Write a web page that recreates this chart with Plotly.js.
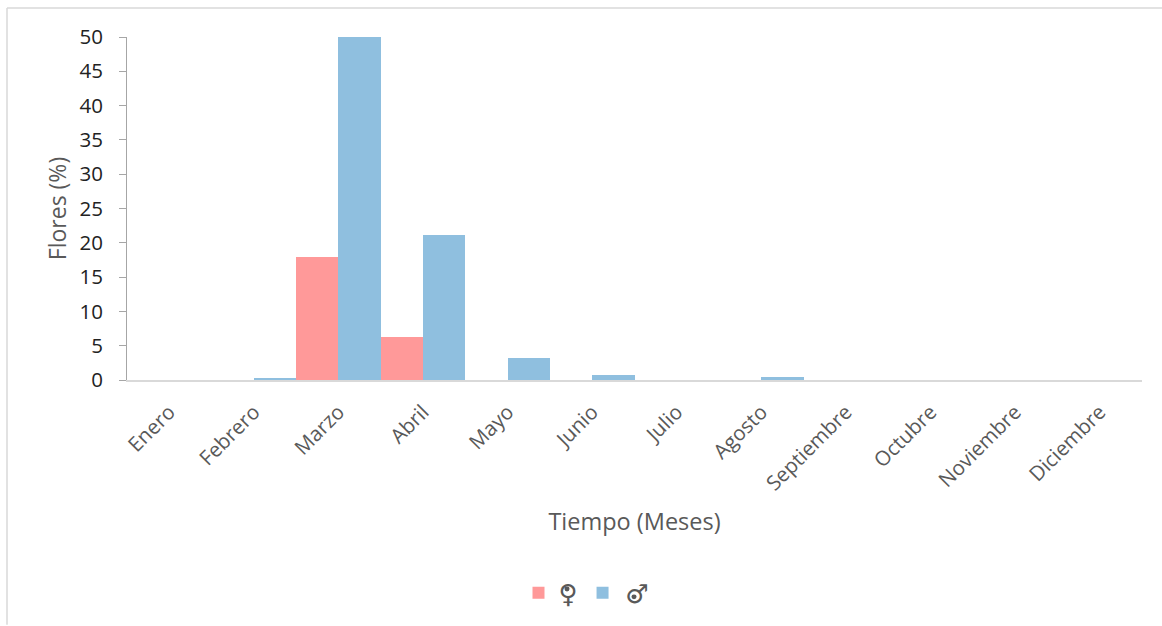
<!DOCTYPE html>
<html>
<head>
<meta charset="utf-8">
<script src="https://cdn.plot.ly/plotly-3.0.1.min.js"></script>
<style>html,body{margin:0;padding:0;background:#fff}#chart{width:1162px;height:626px}</style>
</head>
<body>
<div id="chart"></div>
<script>
// Flowering per month, split by flower sex
const meses = ['Enero','Febrero','Marzo','Abril','Mayo','Junio','Julio','Agosto','Septiembre','Octubre','Noviembre','Diciembre'];
const femeninas = [0,0,18,6.2,0,0,0,0,0,0,0,0];
const masculinas = [0,0.2,50,21.2,3.2,0.8,0,0.4,0,0,0,0];

const W = 1162, H = 626;
const m = {l:127, r:20, t:36.5, b:245.5, autoexpand:false};
const pw = W - m.l - m.r, ph = H - m.t - m.b;
const px = v => (v - m.l) / pw;
const py = v => (H - m.b - v) / ph;
const grisMarco = '#d9d9d9';

const traces = [
  {type:'bar', name:'♀', x:meses, y:femeninas, marker:{color:'#ff9999'}},
  {type:'bar', name:'\u200a♂', x:meses, y:masculinas, marker:{color:'#8fbfdf'}}
];

// Small filled dot sitting inside the ring of a legend sex symbol
const punto = (cx, cy) => ({
  type:'circle', xref:'paper', yref:'paper', fillcolor:'#595959', line:{width:0},
  x0:px(cx-2.5), x1:px(cx+2.5), y0:py(cy+2.5), y1:py(cy-2.5)
});

const layout = {
  width:W, height:H, margin:m,
  paper_bgcolor:'#fff', plot_bgcolor:'#fff',
  barmode:'group', bargap:0, bargroupgap:0,
  font:{family:'"Open Sans", sans-serif', color:'#595959'},
  xaxis:{
    type:'category', range:[-0.5,11.5], showgrid:false, zeroline:false,
    showline:true, linecolor:grisMarco, linewidth:2, ticks:'',
    tickangle:-45, tickfont:{size:20.5, color:'#595959'}, ticklabelstandoff:10,
    title:{text:'Tiempo (Meses)', font:{size:23.5, color:'#595959'}, standoff:18}
  },
  yaxis:{
    range:[0,50], tick0:0, dtick:5, showgrid:false, zeroline:false,
    showline:true, linecolor:'#a6a6a6', linewidth:1,
    ticks:'outside', ticklen:7, tickcolor:'#a6a6a6', tickwidth:1,
    tickfont:{size:20.5, color:'#222222'}, ticklabelstandoff:12,
    title:{text:'Flores (%)', font:{size:23, color:'#595959'}, standoff:6}
  },
  legend:{
    orientation:'h', x:px(586), xanchor:'center', y:py(594), yanchor:'middle',
    font:{size:26, family:'"DejaVu Sans", sans-serif', color:'#595959'},
    itemwidth:30, traceorder:'normal', bgcolor:'rgba(0,0,0,0)'
  },
  showlegend:true,
  shapes:[
    {type:'line', xref:'paper', yref:'paper', x0:px(7), x1:px(1162), y0:py(7.5), y1:py(7.5), line:{color:grisMarco, width:1.5}},
    {type:'line', xref:'paper', yref:'paper', x0:px(7), x1:px(7), y0:py(7.5), y1:py(626), line:{color:grisMarco, width:1.5}},
    punto(567, 590),
    punto(634, 598)
  ]
};

Plotly.newPlot('chart', traces, layout, {displayModeBar:false, responsive:false});
</script>
</body>
</html>
